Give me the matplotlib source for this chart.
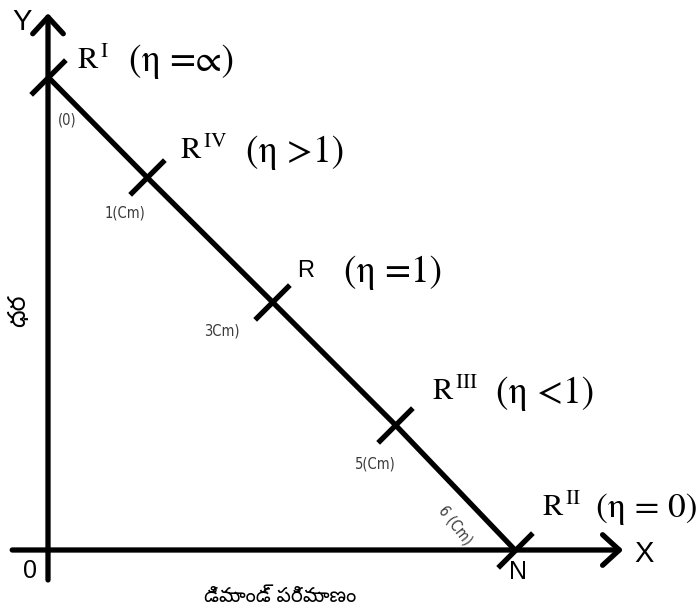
import matplotlib
matplotlib.use("Agg")
import matplotlib.pyplot as plt
from matplotlib.path import Path

plt.rcParams["mathtext.fontset"] = "stix"

# demand line points (quantity, price)
quantity = [0.0, 1.27, 2.88, 4.46, 6.0]
price = [6.0, 4.73, 3.15, 1.59, 0.0]
point_names = [r"$\mathrm{R}^{\,\mathrm{I}}$", r"$\mathrm{R}^{\,\mathrm{IV}}$", "R",
               r"$\mathrm{R}^{\,\mathrm{III}}$", r"$\mathrm{R}^{\,\mathrm{II}}$"]
elasticity = ["(η =∝)", "(η >1)", "(η =1)", "(η <1)", "(η = 0)"]
distance_labels = ["(0)", "1(Cm)", "3Cm)", "5(Cm)", "6 (Cm)"]

x_label = "డిమాండ్ పరిమాణం"
y_label = "ధర"

W, H = 699, 608
fig = plt.figure(figsize=(W / 100, H / 100), dpi=100)
ax = fig.add_axes([0, 0, 1, 1])
ax.axis("off")

# pixel mapping: origin at (48, 550), ~78 px per unit
sx, sy = 77.83, 78.83
ax.set_xlim(-48 / sx, (W - 48) / sx)
ax.set_ylim(-(H - 550) / sy, 550 / sy)

lw = 3.8
# axes with open arrow heads
arrow = dict(arrowstyle="->,head_length=1.2,head_width=1.1", lw=lw, color="black",
             shrinkA=0, shrinkB=0, mutation_scale=10)
ax.annotate("", xy=(0, 6.81), xytext=(0, -0.38), arrowprops=arrow)
ax.annotate("", xy=(7.39, 0), xytext=(-0.46, 0), arrowprops=arrow)

# demand line and cross ticks
ax.plot(quantity, price, color="black", lw=lw, solid_capstyle="butt")
tick = Path([(-1, -1), (1, 1)], [Path.MOVETO, Path.LINETO])
ax.plot(quantity, price, linestyle="none", marker=tick, markersize=25,
        markeredgewidth=lw, markeredgecolor="black")

# point names and elasticity labels (offsets in px)
name_off = [(29, 17), (33, 27), (25, 31), (37, 33), (27, 43)]
eta_x = [81, 99, 72, 101, 81]
eta_size = [27, 27, 27, 27, 25.5]
for i in range(len(quantity)):
    dx, dy = name_off[i]
    if point_names[i] == "R":
        ax.annotate(point_names[i], (quantity[i], price[i]), xytext=(dx * 0.72, dy * 0.72),
                    textcoords="offset points", fontsize=17, family="Liberation Sans",
                    va="center", ha="left")
    else:
        ax.annotate(point_names[i], (quantity[i], price[i]), xytext=(dx * 0.72, dy * 0.72),
                    textcoords="offset points", fontsize=22,
                    va="center", ha="left")
    ax.annotate(elasticity[i], (quantity[i], price[i]),
                xytext=(eta_x[i] * 0.72, (dy - 2) * 0.72),
                textcoords="offset points", fontsize=eta_size[i], family="STIXGeneral",
                va="center", ha="left")

# small distance labels under the line
dist_off = [(14, -31), (-16, -26), (-36, -21), (-14, -28), (-43, 18)]
dist_rot = [0, 0, 0, 0, -52]
for i in range(len(quantity)):
    ax.annotate(distance_labels[i], (quantity[i], price[i]), xytext=dist_off[i],
                textcoords="offset points", fontsize=10.5, color="#3a3a3a",
                family="DejaVu Sans", stretch="condensed", rotation=dist_rot[i],
                ha="center", va="center")

# axis letters
ax.annotate("Y", (0, 6.81), xytext=(-19, -6), textcoords="offset points",
            fontsize=21, family="Liberation Sans", ha="center", va="center")
ax.annotate("X", (7.39, 0), xytext=(15, -3), textcoords="offset points",
            fontsize=21, family="Liberation Sans", ha="center", va="center")
ax.annotate("0", (0, 0), xytext=(-13, -15), textcoords="offset points",
            fontsize=18, family="Liberation Sans", ha="center", va="center")
ax.annotate("N", (quantity[-1], price[-1]), xytext=(2, -16), textcoords="offset points",
            fontsize=18, family="Liberation Sans", ha="center", va="center")

telugu = ["Noto Sans Telugu", "Noto Sans", "DejaVu Sans"]
fig.text(280 / W, 1 - 597 / H, x_label, fontsize=14.5, family=telugu,
         ha="center", va="center")
fig.text(19 / W, 1 - 311 / H, y_label, fontsize=18, family=telugu,
         ha="center", va="center", rotation=90)

fig.savefig("out.png", dpi=100)
